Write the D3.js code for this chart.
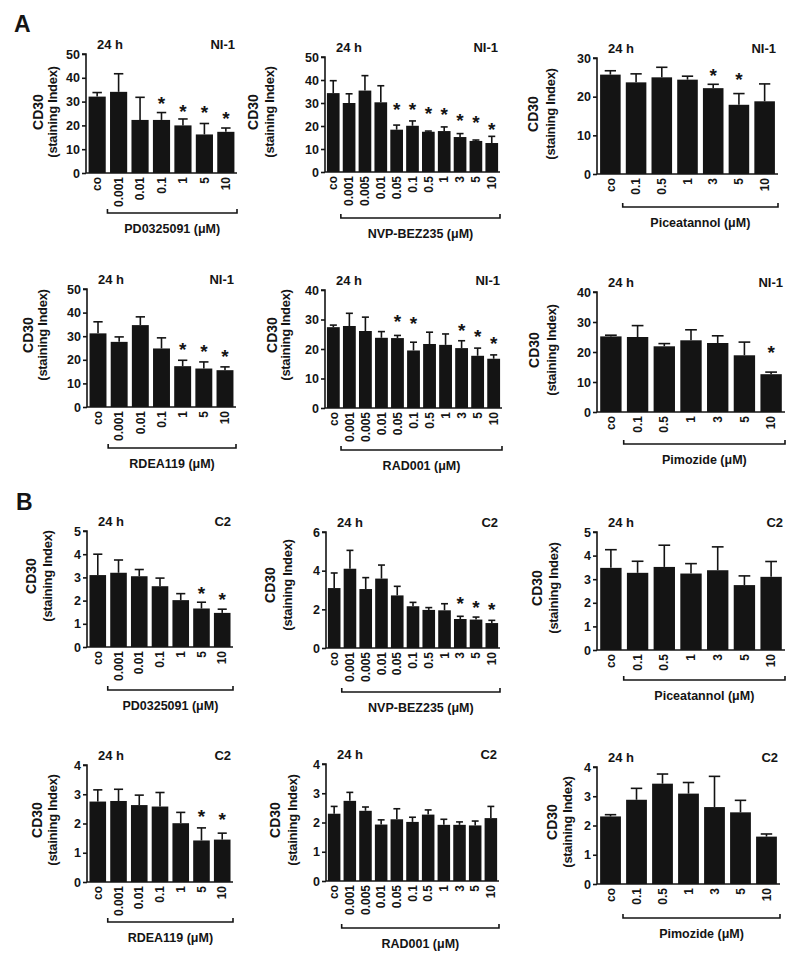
<!DOCTYPE html>
<html><head><meta charset="utf-8">
<script src="https://cdn.jsdelivr.net/npm/d3@7"></script>
<style>
html,body{margin:0;padding:0;background:#fff;}
svg{display:block;font-family:"Liberation Sans",Arial,sans-serif;}
</style></head>
<body>
<svg id="chart" width="800" height="963"></svg>
<script>
// ---------- data ----------
const concA = ["co","0.001","0.01","0.1","1","5","10"];
const concB = ["co","0.001","0.005","0.01","0.05","0.1","0.5","1","3","5","10"];
const concC = ["co","0.1","0.5","1","3","5","10"];

const drugs = ["PD0325091 (μM)","NVP-BEZ235 (μM)","Piceatannol (μM)","RDEA119 (μM)","RAD001 (μM)","Pimozide (μM)",
               "PD0325091 (μM)","NVP-BEZ235 (μM)","Piceatannol (μM)","RDEA119 (μM)","RAD001 (μM)","Pimozide (μM)"];
const cellLines = ["NI-1","NI-1","NI-1","NI-1","NI-1","NI-1","C2","C2","C2","C2","C2","C2"];
const timeLabel = "24 h";
const panelLetters = ["A","B"];

const ticks50 = [0,10,20,30,40,50];
const ticks30 = [0,10,20,30];
const ticks40 = [0,10,20,30,40];
const ticks5 = [0,1,2,3,4,5];
const ticks6 = [0,2,4,6];
const ticks4 = [0,1,2,3,4];

// NI-1
const p1Mean = [32.1,34.1,22.3,22.3,20.0,16.2,17.3];
const p1Err  = [1.7,7.6,9.5,3.1,2.7,4.6,1.6];
const p1Star = [null,null,null,30.7,27.2,26.8,24.4];

const p2Mean = [34.3,30.0,35.4,30.3,18.4,20.1,17.5,17.8,15.2,13.5,12.6];
const p2Err  = [5.4,4.0,6.5,7.2,2.0,2.1,0.3,1.8,1.5,0.4,2.9];
const p2Star = [null,null,null,null,28.6,28.6,27.1,26.4,23.9,23.0,20.1];

const p3Mean = [25.7,23.7,25.0,24.4,22.2,17.9,18.8];
const p3Err  = [1.0,2.2,2.6,0.9,1.0,2.9,4.5];
const p3Star = [null,null,null,null,26.5,25.4,null];

const p4Mean = [31.2,27.6,34.7,24.8,17.3,16.3,15.6];
const p4Err  = [4.9,2.1,3.5,4.5,2.5,2.8,1.4];
const p4Star = [null,null,null,null,25.8,25.2,22.7];

const p5Mean = [27.4,27.8,26.1,23.8,23.7,19.5,21.7,21.4,20.3,17.7,16.7];
const p5Err  = [0.7,4.3,4.7,2.1,0.9,2.8,4.0,3.7,2.5,2.6,1.3];
const p5Star = [null,null,null,null,30.4,29.9,null,null,27.4,25.4,22.9];

const p6Mean = [25.2,25.0,21.9,23.9,23.0,18.9,12.6];
const p6Err  = [0.4,3.8,0.9,3.5,2.4,4.4,0.7];
const p6Star = [null,null,null,null,null,null,21.1];

// C2
const p7Mean = [3.10,3.20,3.05,2.62,2.02,1.66,1.47];
const p7Err  = [0.90,0.55,0.29,0.35,0.28,0.27,0.16];
const p7Star = [null,null,null,null,null,2.45,2.19];

const p8Mean = [3.10,4.10,3.05,3.59,2.72,2.16,1.97,1.95,1.50,1.47,1.29];
const p8Err  = [0.78,0.95,0.59,0.70,0.47,0.20,0.12,0.34,0.14,0.13,0.14];
const p8Star = [null,null,null,null,null,null,null,null,2.50,2.29,2.16];

const p9Mean = [3.48,3.27,3.52,3.24,3.38,2.75,3.10];
const p9Err  = [0.77,0.49,0.92,0.42,0.99,0.39,0.65];
const p9Star = [null,null,null,null,null,null,null];

const p10Mean = [2.75,2.77,2.63,2.58,2.01,1.42,1.45];
const p10Err  = [0.40,0.40,0.34,0.48,0.37,0.43,0.22];
const p10Star = [null,null,null,null,null,2.35,2.24];

const p11Mean = [2.30,2.74,2.40,1.93,2.11,2.02,2.27,1.92,1.92,1.90,2.15];
const p11Err  = [0.25,0.29,0.13,0.16,0.36,0.16,0.16,0.19,0.10,0.15,0.40];
const p11Star = [null,null,null,null,null,null,null,null,null,null,null];

const p12Mean = [2.31,2.88,3.43,3.09,2.63,2.45,1.62];
const p12Err  = [0.06,0.39,0.33,0.38,1.05,0.41,0.09];
const p12Star = [null,null,null,null,null,null,null];

const panelData = [
  {cats:concA, mean:p1Mean, err:p1Err, star:p1Star, ticks:ticks50},
  {cats:concB, mean:p2Mean, err:p2Err, star:p2Star, ticks:ticks50},
  {cats:concC, mean:p3Mean, err:p3Err, star:p3Star, ticks:ticks30},
  {cats:concA, mean:p4Mean, err:p4Err, star:p4Star, ticks:ticks50},
  {cats:concB, mean:p5Mean, err:p5Err, star:p5Star, ticks:ticks40},
  {cats:concC, mean:p6Mean, err:p6Err, star:p6Star, ticks:ticks40},
  {cats:concA, mean:p7Mean, err:p7Err, star:p7Star, ticks:ticks5},
  {cats:concB, mean:p8Mean, err:p8Err, star:p8Star, ticks:ticks6},
  {cats:concC, mean:p9Mean, err:p9Err, star:p9Star, ticks:ticks5},
  {cats:concA, mean:p10Mean, err:p10Err, star:p10Star, ticks:ticks4},
  {cats:concB, mean:p11Mean, err:p11Err, star:p11Star, ticks:ticks4},
  {cats:concC, mean:p12Mean, err:p12Err, star:p12Star, ticks:ticks4}
];

// ---------- layout (pixels) ----------
const layout = [
  {x0:86, x1:237, yTop:54,  yZero:173, br:213, lx:[-48,-34], ly:112},
  {x0:325,x1:500, yTop:57,  yZero:172, br:218, lx:[-72,-56], ly:112},
  {x0:597,x1:778, yTop:58,  yZero:174, br:207, lx:[-64,-47], ly:114},
  {x0:87, x1:236, yTop:289, yZero:407, br:448, lx:[-59,-45], ly:335},
  {x0:325,x1:502, yTop:290, yZero:408, br:450, lx:[-53,-40], ly:335},
  {x0:597,x1:785, yTop:292, yZero:412, br:444, lx:[-63,-46], ly:350},
  {x0:87, x1:233, yTop:531, yZero:647, br:690, lx:[-56,-40], ly:576},
  {x0:326,x1:500, yTop:532, yZero:648, br:692, lx:[-56,-39], ly:585},
  {x0:597,x1:785, yTop:532, yZero:650, br:680, lx:[-60,-44], ly:588},
  {x0:87, x1:233, yTop:765, yZero:882, br:922, lx:[-50,-35], ly:820},
  {x0:326,x1:499, yTop:764, yZero:881, br:928, lx:[-51,-34], ly:820},
  {x0:597,x1:780, yTop:767, yZero:884, br:918, lx:[-45,-30], ly:822}
];
const letterPos = [{x:14,y:32},{x:16,y:510}];

const ink = "#141414";
const svg = d3.select("#chart");

panelLetters.forEach((L,i)=>{
  svg.append("text").attr("x",letterPos[i].x).attr("y",letterPos[i].y)
    .attr("font-size",23).attr("font-weight","bold").attr("fill",ink).text(L);
});

panelData.forEach((d,i)=>{
  const L = layout[i];
  const g = svg.append("g");
  const ymax = d.ticks[d.ticks.length-1];
  const x = d3.scaleBand().domain(d.cats).range([L.x0, L.x1]).paddingInner(0.2).paddingOuter(0.12);
  const y = d3.scaleLinear().domain([0,ymax]).range([L.yZero, L.yTop]);

  // bars
  g.selectAll("rect.bar").data(d.cats).join("rect")
    .attr("x",c=>x(c)).attr("width",x.bandwidth())
    .attr("y",(c,k)=>y(d.mean[k])).attr("height",(c,k)=>L.yZero - y(d.mean[k]))
    .attr("fill",ink);

  // error bars
  const cap = x.bandwidth()*0.55;
  d.cats.forEach((c,k)=>{
    const cx = x(c)+x.bandwidth()/2;
    const top = y(d.mean[k]+d.err[k]);
    g.append("line").attr("x1",cx).attr("x2",cx).attr("y1",y(d.mean[k])).attr("y2",top)
      .attr("stroke",ink).attr("stroke-width",1.6);
    g.append("line").attr("x1",cx-cap/2).attr("x2",cx+cap/2).attr("y1",top).attr("y2",top)
      .attr("stroke",ink).attr("stroke-width",1.6);
    if (d.star[k] != null) {
      g.append("text").attr("x",cx).attr("y",y(d.star[k])+10)
        .attr("text-anchor","middle").attr("font-size",19).attr("font-weight","bold")
        .attr("fill",ink).text("*");
    }
  });

  // y axis
  const yAxis = d3.axisLeft(y).tickValues(d.ticks).tickSize(4).tickPadding(2).tickFormat(d3.format("d"));
  const ga = g.append("g").attr("transform",`translate(${L.x0},0)`).call(yAxis);
  ga.select(".domain").attr("stroke",ink).attr("stroke-width",1.6).attr("d",`M-4,${L.yTop}H0V${L.yZero}`);
  ga.selectAll(".tick line").attr("stroke",ink).attr("stroke-width",1.6);
  ga.selectAll(".tick text").attr("font-size",12.5).attr("font-weight","bold").attr("fill",ink)
    .attr("font-family","Liberation Sans, Arial, sans-serif");

  // x axis (baseline + rotated labels)
  const xAxis = d3.axisBottom(x).tickSize(0).tickPadding(4);
  const gx = g.append("g").attr("transform",`translate(0,${L.yZero})`).call(xAxis);
  gx.select(".domain").attr("stroke",ink).attr("stroke-width",1.6).attr("d",`M${L.x0},0H${L.x1}`);
  gx.selectAll(".tick text").attr("font-size",12).attr("font-weight","bold").attr("fill",ink)
    .attr("font-family","Liberation Sans, Arial, sans-serif")
    .attr("transform","rotate(-90)").attr("text-anchor","end")
    .attr("x",-4).attr("y",0).attr("dy","0.35em");

  // bracket
  const bx0 = x.step()*1 + L.x0;
  g.append("path").attr("d",`M${bx0},${L.br-4}V${L.br}H${L.x1}V${L.br-4}`)
    .attr("fill","none").attr("stroke",ink).attr("stroke-width",1.6);
  g.append("text").attr("x",(bx0+L.x1)/2).attr("y",L.br+20).attr("text-anchor","middle")
    .attr("font-size",12.5).attr("font-weight","bold").attr("fill",ink).text(drugs[i]);

  // titles
  g.append("text").attr("x",L.x0+11).attr("y",L.yTop-5)
    .attr("font-size",13).attr("font-weight","bold").attr("fill",ink).text(timeLabel);
  g.append("text").attr("x",L.x1-2).attr("y",L.yTop-5).attr("text-anchor","end")
    .attr("font-size",13).attr("font-weight","bold").attr("fill",ink).text(cellLines[i]);

  // y label
  g.append("text").attr("transform",`translate(${L.x0+L.lx[0]},${L.ly}) rotate(-90)`)
    .attr("text-anchor","middle").attr("dominant-baseline","central")
    .attr("font-size",14).attr("font-weight","bold").attr("fill",ink).text("CD30");
  g.append("text").attr("transform",`translate(${L.x0+L.lx[1]},${L.ly}) rotate(-90)`)
    .attr("text-anchor","middle").attr("dominant-baseline","central")
    .attr("font-size",13).attr("font-weight","bold").attr("letter-spacing",-0.3)
    .attr("fill",ink).text("(staining Index)");
});
</script>
</body></html>
